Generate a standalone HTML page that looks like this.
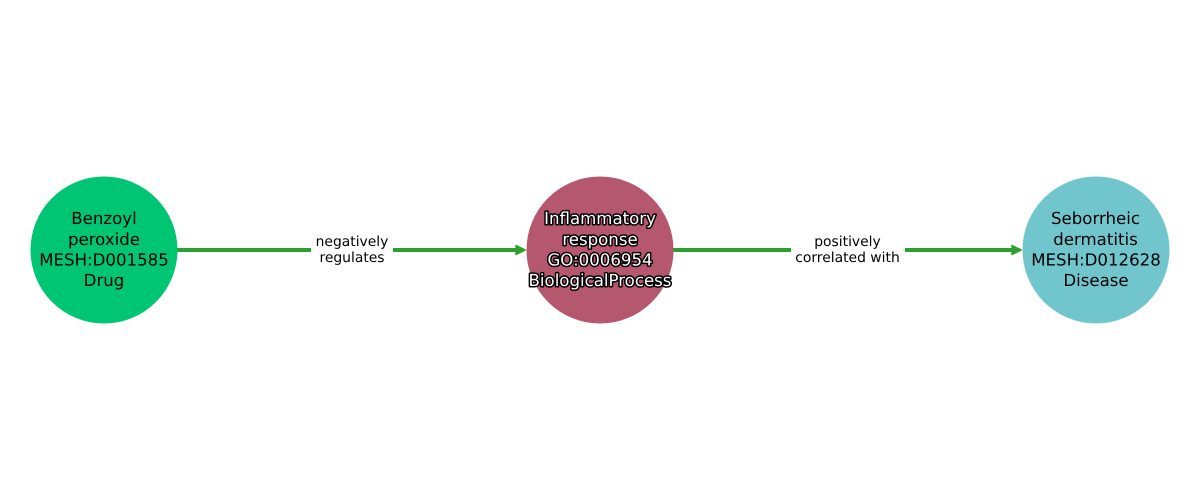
<!DOCTYPE html>
<html><head><meta charset="utf-8">
<style>
html,body{margin:0;padding:0;background:#fff;width:1200px;height:500px;overflow:hidden}
svg{display:block}
text{font-family:"DejaVu Sans",sans-serif;text-anchor:middle;text-rendering:geometricPrecision}
.n{font-size:16.6px;fill:#000}
.e{font-size:13.89px;fill:#000}
.h{stroke:#000;stroke-width:3px;paint-order:stroke;fill:#fff;stroke-linejoin:round}
</style></head>
<body>
<svg width="1200" height="500" viewBox="0 0 1200 500" xmlns="http://www.w3.org/2000/svg">
<rect width="1200" height="500" fill="#fff"/>
<line x1="177" y1="250" x2="311" y2="250" stroke="#2ca02c" stroke-width="4"/>
<line x1="393" y1="250" x2="519" y2="250" stroke="#2ca02c" stroke-width="4"/>
<path d="M516 245.700 L525 250 L516 254.300 L517 250Z" fill="#2ca02c" stroke="#2ca02c" stroke-width="1.800" stroke-linejoin="round"/>
<line x1="673" y1="250" x2="791" y2="250" stroke="#2ca02c" stroke-width="4"/>
<line x1="905" y1="250" x2="1015" y2="250" stroke="#2ca02c" stroke-width="4"/>
<path d="M1012 245.700 L1021 250 L1012 254.300 L1013 250Z" fill="#2ca02c" stroke="#2ca02c" stroke-width="1.800" stroke-linejoin="round"/>
<circle cx="104" cy="250" r="73.500" fill="#00c573"/>
<circle cx="600" cy="250" r="73.500" fill="#b5576f"/>
<circle cx="1096" cy="250" r="73.500" fill="#70c6cc"/>
<text class="n" x="104" y="224">Benzoyl</text>
<text class="n" x="104" y="245">peroxide</text>
<text class="n" x="104" y="265.500">MESH:D001585</text>
<text class="n" x="104" y="286">Drug</text>
<text class="n h" x="600" y="224">Inflammatory</text>
<text class="n h" x="600" y="245">response</text>
<text class="n h" x="600" y="265.500">GO:0006954</text>
<text class="n h" x="600" y="286">BiologicalProcess</text>
<text class="n" x="1095.500" y="224">Seborrheic</text>
<text class="n" x="1095.500" y="245">dermatitis</text>
<text class="n" x="1096" y="265.500">MESH:D012628</text>
<text class="n" x="1096" y="286">Disease</text>
<text class="e" x="352" y="246">negatively</text>
<text class="e" x="352" y="262">regulates</text>
<text class="e" x="847.500" y="246">positively</text>
<text class="e" x="847.500" y="262">correlated with</text>
</svg>
</body></html>
